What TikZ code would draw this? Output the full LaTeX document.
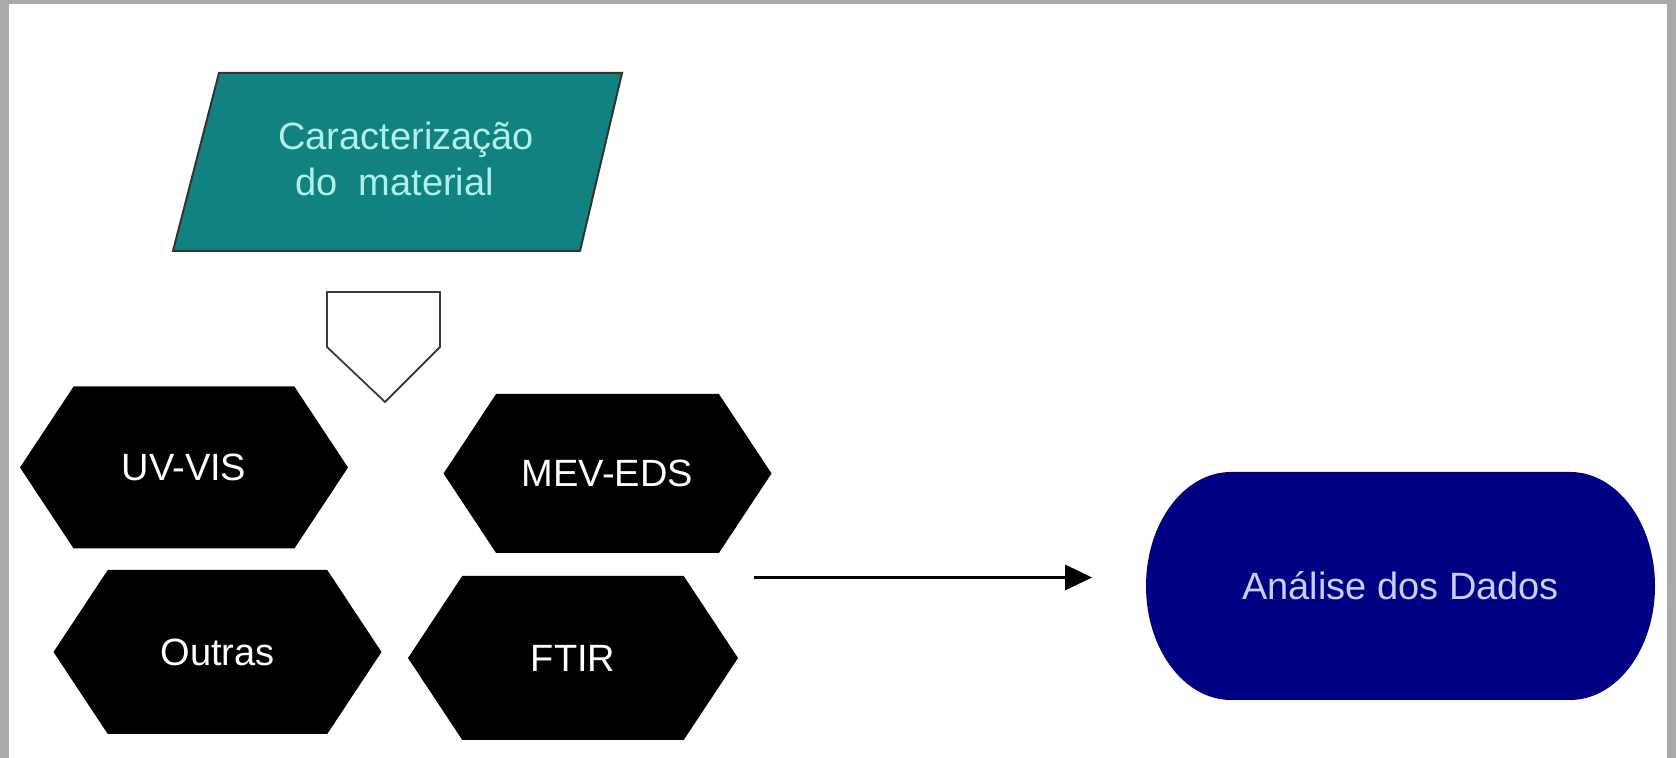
\documentclass[tikz,border=0pt]{standalone}
\usepackage{fontspec}
\setmainfont{Liberation Sans}
\usetikzlibrary{arrows.meta,shapes.symbols}
\definecolor{framegrey}{RGB}{170,170,170}
\definecolor{tealfill}{RGB}{18,130,128}
\definecolor{tealtext}{RGB}{175,240,235}
\definecolor{navyfill}{RGB}{0,0,130}
\definecolor{navytext}{RGB}{205,205,255}
\definecolor{penborder}{RGB}{60,60,60}
\tikzset{
  txt/.style={font=\fontsize{19}{23}\selectfont},
  hexbox/.style={signal, signal to=east and west, signal pointer angle=113,
    fill=black, draw=none, inner sep=0pt, text=white, txt,
    minimum width=164pt, minimum height=81pt},
  arr/.style={-{Triangle[length=13.5pt,width=12.5pt]}, line width=1.5pt, black},
}
\begin{document}
\begin{tikzpicture}[x=0.5pt,y=0.5pt]
\useasboundingbox (0,0) rectangle (1676,758);
\fill[framegrey] (0,0) rectangle (1676,758);
\fill[white] (9,0) rectangle (1667,754);

% parallelogram
\draw[fill=tealfill, draw=black!80, line width=1pt] (219,685) -- (622,685) -- (580,507) -- (173,507) -- cycle;
\node[txt, text=tealtext, align=left, anchor=west, inner sep=0pt] (carac) at (278,599)
  {Caracterização\\\hspace*{8.5pt}do\ \ material};

% off-page connector
\draw[fill=white, draw=penborder, line width=0.9pt] (327,466) -- (440,466) -- (440,411) -- (385,356) -- (327,411) -- cycle;

% hexagons
\node[hexbox] (uvvis) at (184,290.5) {UV-VIS};
\node[hexbox, minimum height=79.5pt] (mev) at (607.5,284.5) {MEV-EDS};
\node[hexbox, minimum height=82pt] (outras) at (217.5,106) {Outras};
\node[hexbox, minimum height=82pt, minimum width=165pt] (ftir) at (573,100) {FTIR};

% data analysis terminal
\fill[navyfill] (1231,286) -- (1570,286) arc[start angle=90,end angle=-90,x radius=42.5pt,y radius=57pt]
  -- (1231,58) arc[start angle=270,end angle=90,x radius=42.5pt,y radius=57pt] -- cycle;
\node[txt, text=navytext, minimum width=254pt, minimum height=114pt, inner sep=0pt] (dados) at (1400.5,172) {Análise dos Dados};

% arrow
\coordinate (astart) at (754,180.5);
\draw[arr, shorten >=27pt] (astart) -- (astart -| dados.west);
\end{tikzpicture}
\end{document}
